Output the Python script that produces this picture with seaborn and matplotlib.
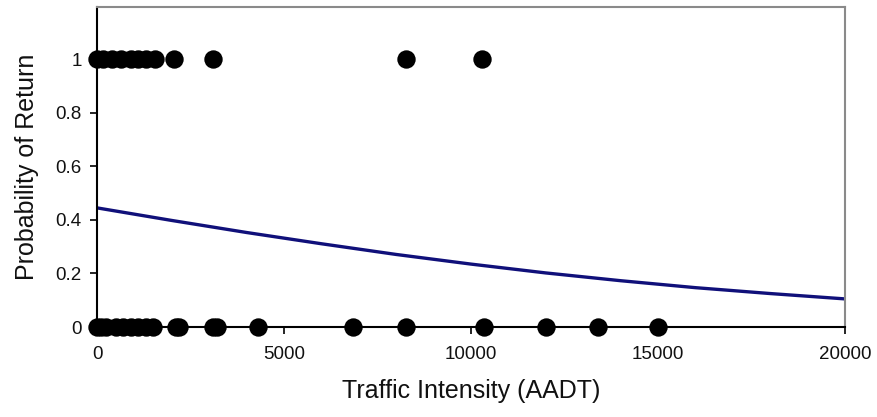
import numpy as np
import pandas as pd
import matplotlib
matplotlib.use('Agg')
import matplotlib.pyplot as plt
import seaborn as sns

# Observaciones (AADT) con retorno = 1 y retorno = 0
aadt_retorno = [0, 150, 400, 650, 900, 1100, 1300, 1550, 2050, 3100, 8250, 10300]
aadt_sin_retorno = [0, 100, 250, 500, 700, 900, 1100, 1300, 1500, 2100, 2200,
                    3100, 3200, 4300, 6850, 8250, 10350, 12000, 13400, 15000]

# Curva ajustada
curva_x = [0, 2000, 4000, 6000, 8000, 10000, 12000, 14000, 16000, 18000, 20000]
curva_p = [0.445, 0.398, 0.353, 0.311, 0.271, 0.235, 0.202, 0.173, 0.147, 0.125, 0.105]

puntos = pd.DataFrame({
    'aadt': aadt_retorno + aadt_sin_retorno,
    'retorno': [1] * len(aadt_retorno) + [0] * len(aadt_sin_retorno),
})
curva = pd.DataFrame({'aadt': curva_x, 'prob': curva_p})

sns.set_style('white')
plt.rcParams['font.family'] = ['Liberation Sans', 'DejaVu Sans']

fig = plt.figure(figsize=(8.78, 4.17), dpi=100)
ax = fig.add_axes([0.1105, 0.2158, 0.8519, 0.7672])

sns.lineplot(data=curva, x='aadt', y='prob', color='#10107a', linewidth=2.4, ax=ax, zorder=2)
sns.scatterplot(data=puntos, x='aadt', y='retorno', color='black', s=175,
                edgecolor='black', linewidth=0, ax=ax, zorder=3, clip_on=False)

ax.set_xlim(0, 20000)
ax.set_ylim(0, 1.195)
ax.set_xticks([0, 5000, 10000, 15000, 20000])
ax.set_yticks([0, 0.2, 0.4, 0.6, 0.8, 1])
ax.set_yticklabels(['0', '0.2', '0.4', '0.6', '0.8', '1'])

ax.set_xlabel('Traffic Intensity (AADT)', fontsize=18, labelpad=11, color='#111111')
ax.set_ylabel('Probability of Return', fontsize=18, labelpad=12, color='#111111')
ax.tick_params(axis='both', direction='out', length=5, width=1.2, color='black',
               labelsize=13.5, labelcolor='#111111', left=True, bottom=True, pad=6)
ax.tick_params(axis='x', pad=9)

for lado in ['top', 'right']:
    ax.spines[lado].set_color('#8a8a8a')
    ax.spines[lado].set_linewidth(1.5)
for lado in ['left', 'bottom']:
    ax.spines[lado].set_color('black')
    ax.spines[lado].set_linewidth(1.5)

fig.savefig('out.png', dpi=100)
